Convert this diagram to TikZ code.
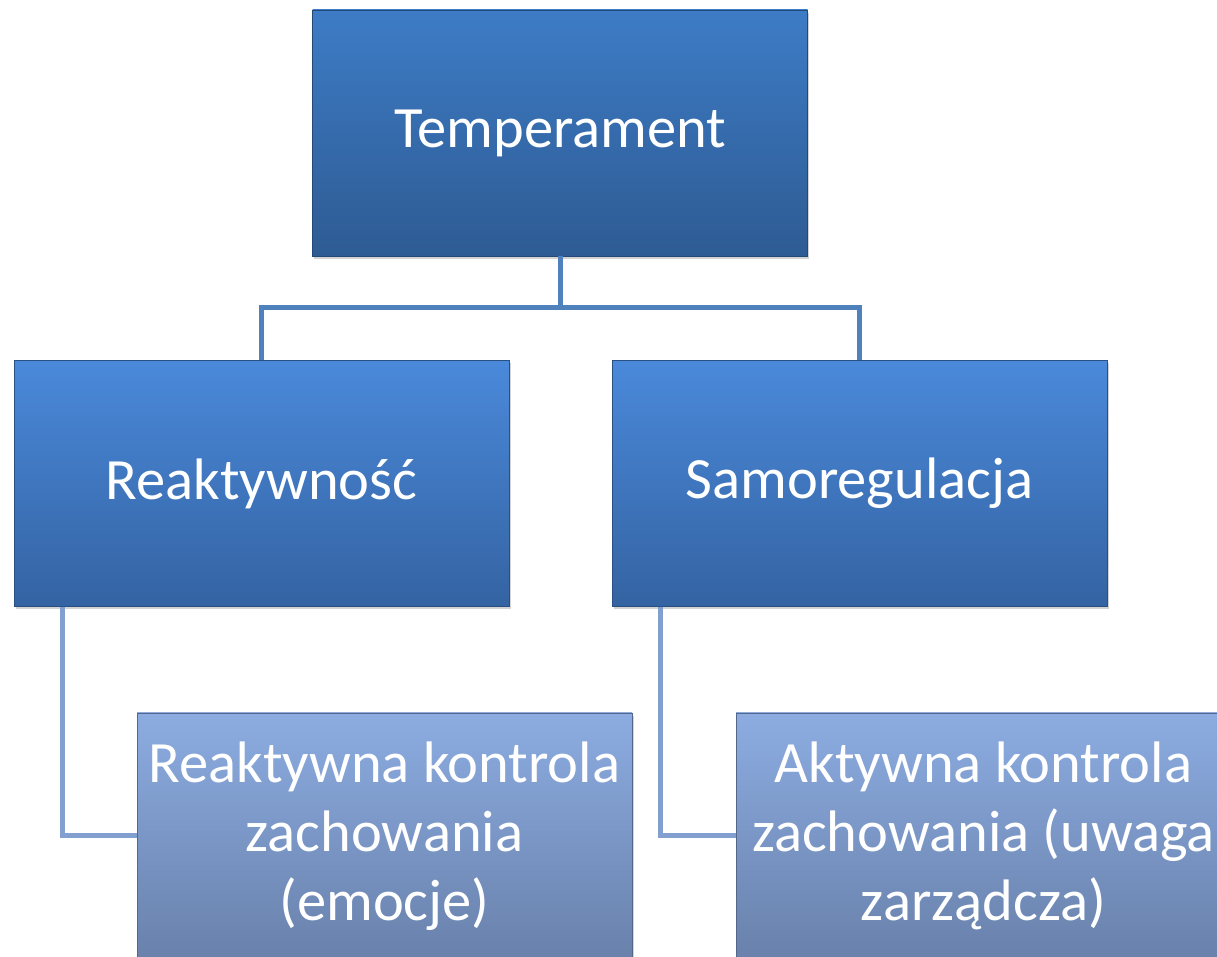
\documentclass[tikz,border=0pt]{standalone}
\usepackage{fontspec}
\setmainfont{Carlito}
\usetikzlibrary{shadows}
\definecolor{topA}{HTML}{3D7CC6}
\definecolor{topB}{HTML}{2E5B93}
\definecolor{midA}{HTML}{4A89DA}
\definecolor{midB}{HTML}{3463A2}
\definecolor{lowA}{HTML}{8CACE1}
\definecolor{lowB}{HTML}{6981AB}
\definecolor{linkA}{HTML}{4F81BD}
\definecolor{linkB}{HTML}{81A0CF}
\tikzset{
  box/.style={minimum width=495bp,minimum height=246bp,inner sep=0pt,align=center,
    text=white,font=\fontsize{58.5bp}{69bp}\selectfont,draw=#1B!80!black,line width=0.6bp,
    top color=#1A,bottom color=#1B,
    drop shadow={opacity=0.35,shadow xshift=1.5bp,shadow yshift=-3bp}},
  link/.style={line width=5bp,#1},
}
\begin{document}
\begin{tikzpicture}[line join=miter,]
\clip (0bp,0bp) rectangle (1217bp,957bp);
\useasboundingbox (0bp,0bp) rectangle (1217bp,957bp);
%%
\node (temp) at (560bp,824bp) [box=top] {Temperament};
\node (reak) at (261.5bp,473.5bp) [box=mid] {Reaktywność};
\node (samo) at (859.5bp,473.5bp) [box=mid] {Samoregulacja};
\node (rkz) at (384.5bp,121bp) [box=low] {Reaktywna kontrola\\zachowania\\(emocje)};
\node (akz) at (983.5bp,121bp) [box=low] {Aktywna kontrola\\zachowania (uwaga\\zarządcza)};
%
\draw [link=linkA] (temp.south) -- ++(0,-51bp) -| (reak.north);
\draw [link=linkA] (temp.south) -- ++(0,-51bp) -| (samo.north);
\draw [link=linkB] (reak.south west) ++(49bp,0) |- (rkz.west);
\draw [link=linkB] (samo.south west) ++(49bp,0) |- (akz.west);
%
\end{tikzpicture}
\end{document}
